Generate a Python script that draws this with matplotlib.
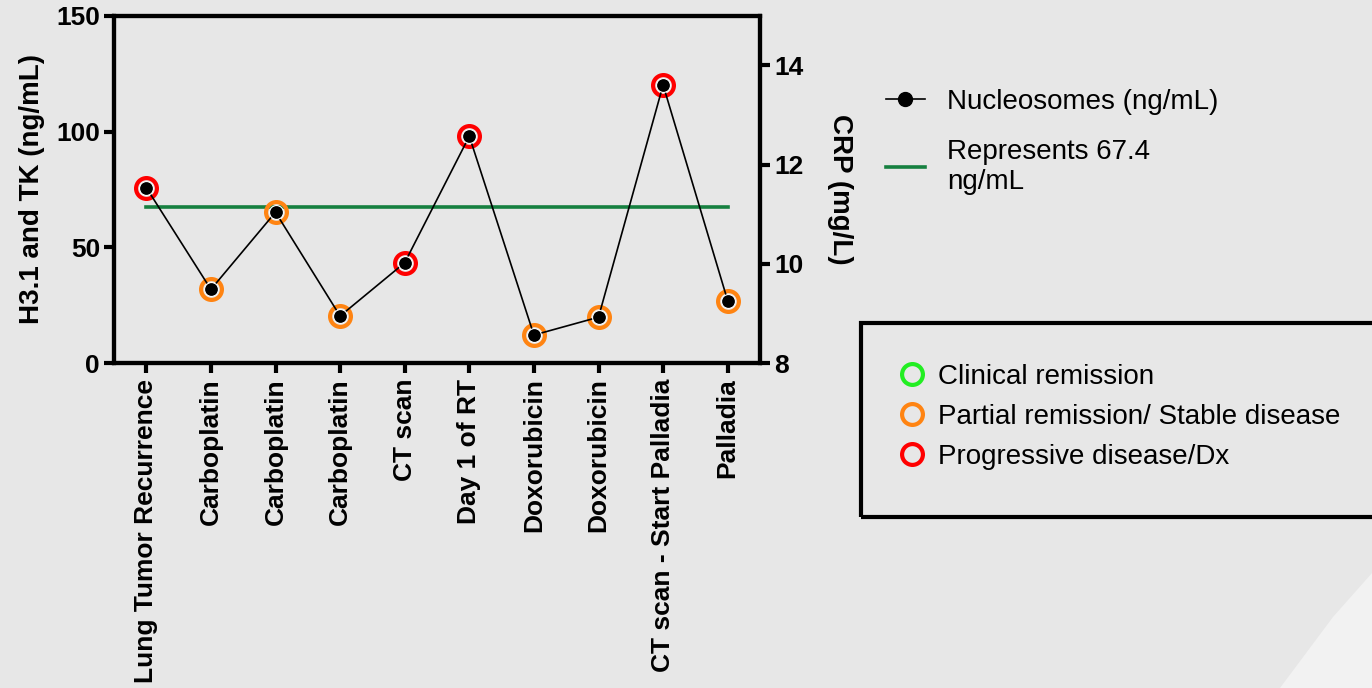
import matplotlib
matplotlib.use("Agg")
import matplotlib.pyplot as plt
from matplotlib.lines import Line2D
from matplotlib.patches import Rectangle, Polygon

plt.rcParams["font.family"] = ["Liberation Sans", "DejaVu Sans"]

# data
timepoints = ["Lung Tumor Recurrence", "Carboplatin", "Carboplatin", "Carboplatin",
              "CT scan", "Day 1 of RT", "Doxorubicin", "Doxorubicin",
              "CT scan - Start Palladia", "Palladia"]
nucleosomes = [75.8, 31.9, 65.2, 20.4, 43.4, 98.0, 12.2, 19.9, 120.1, 27.0]
status = ["prog", "partial", "partial", "partial", "prog",
          "prog", "partial", "partial", "prog", "partial"]
reference_level = 67.4
left_ticks = [0, 50, 100, 150]
right_ticks = [8, 10, 12, 14]

status_colors = {"clinical": "#22ee22", "partial": "#ff8412", "prog": "#ff0000"}
status_labels = {"clinical": "Clinical remission",
                 "partial": "Partial remission/ Stable disease",
                 "prog": "Progressive disease/Dx"}

W, H = 1372, 688
bg = "#e7e7e7"
fig = plt.figure(figsize=(W / 100, H / 100), dpi=100, facecolor=bg)


def fx(px):
    return px / W


def fy(py):
    return 1 - py / H


ax = fig.add_axes([fx(114), fy(363.3), fx(760) - fx(114), fy(15.7) - fy(363.3)])
ax.set_facecolor(bg)

x = list(range(len(timepoints)))

# status rings
for xi, yi, st in zip(x, nucleosomes, status):
    ax.plot(xi, yi, marker="o", ms=15, mfc="none", mec=status_colors[st],
            mew=3.0, ls="none", zorder=3)

# reference line
ax.plot([x[0], x[-1]], [reference_level, reference_level], color="#168040",
        lw=2.6, zorder=2)

# nucleosome series
ax.plot(x, nucleosomes, color="black", lw=1.2, zorder=4)
ax.plot(x, nucleosomes, ls="none", marker="o", ms=10, mfc="black", mec="white",
        mew=0.8, zorder=5)

ax.set_xlim(-0.5, 9.5)
ax.set_ylim(0, 150)
ax.set_yticks(left_ticks)
ax.set_xticks(x)
ax.set_xticklabels(timepoints, rotation=90, fontsize=19, fontweight="bold")
ax.tick_params(axis="y", labelsize=19, width=3, length=7, pad=3)
ax.tick_params(axis="x", width=3, length=7, pad=4)
for lab in ax.get_yticklabels():
    lab.set_fontweight("bold")
ax.set_ylabel("H3.1 and TK (ng/mL)", fontsize=20, fontweight="bold", labelpad=8)
for sp in ax.spines.values():
    sp.set_linewidth(3)

ax2 = ax.twinx()
ax2.set_ylim(8, 15)
ax2.set_yticks(right_ticks)
ax2.tick_params(axis="y", labelsize=19, width=3, length=7, pad=3)
for lab in ax2.get_yticklabels():
    lab.set_fontweight("bold")
ax2.set_ylabel("CRP (mg/L)", fontsize=20, fontweight="bold", rotation=270,
               labelpad=36)
for sp in ax2.spines.values():
    sp.set_linewidth(3)

# series legend
h1 = [Line2D([], [], color="black", lw=1.2, marker="o", ms=10, mfc="black", mec="black"),
      Line2D([], [], color="#168040", lw=2.6)]
leg1 = fig.legend(h1, ["Nucleosomes (ng/mL)", "Represents 67.4\nng/mL"],
                  loc="upper left", bbox_to_anchor=(fx(886), fy(89)),
                  frameon=False, fontsize=20, handlelength=1.4, handletextpad=0.8,
                  borderpad=0, borderaxespad=0, labelspacing=0.85)

# status legend with its box
fig.add_artist(Rectangle((fx(861), fy(517)), fx(560), fy(323) - fy(517),
                         transform=fig.transFigure, fill=False, ec="black", lw=3,
                         clip_on=False))
h2 = [Line2D([], [], ls="none", marker="o", ms=15, mfc="none",
             mec=status_colors[k], mew=3.0) for k in ["clinical", "partial", "prog"]]
fig.legend(h2, [status_labels[k] for k in ["clinical", "partial", "prog"]],
           loc="upper left", bbox_to_anchor=(fx(898), fy(364)), frameon=False,
           fontsize=20, handlelength=1.0, handletextpad=0.45, borderpad=0,
           borderaxespad=0, labelspacing=0.5)

# lighter corner shape
fig.add_artist(Polygon([(fx(1372), fy(573)), (fx(1333), fy(617)), (fx(1280), fy(688)),
                        (fx(1372), fy(688))], closed=True, transform=fig.transFigure,
                       fc="#f2f2f2", ec="none", zorder=-1))

fig.savefig("out.png", dpi=100, facecolor=bg)
